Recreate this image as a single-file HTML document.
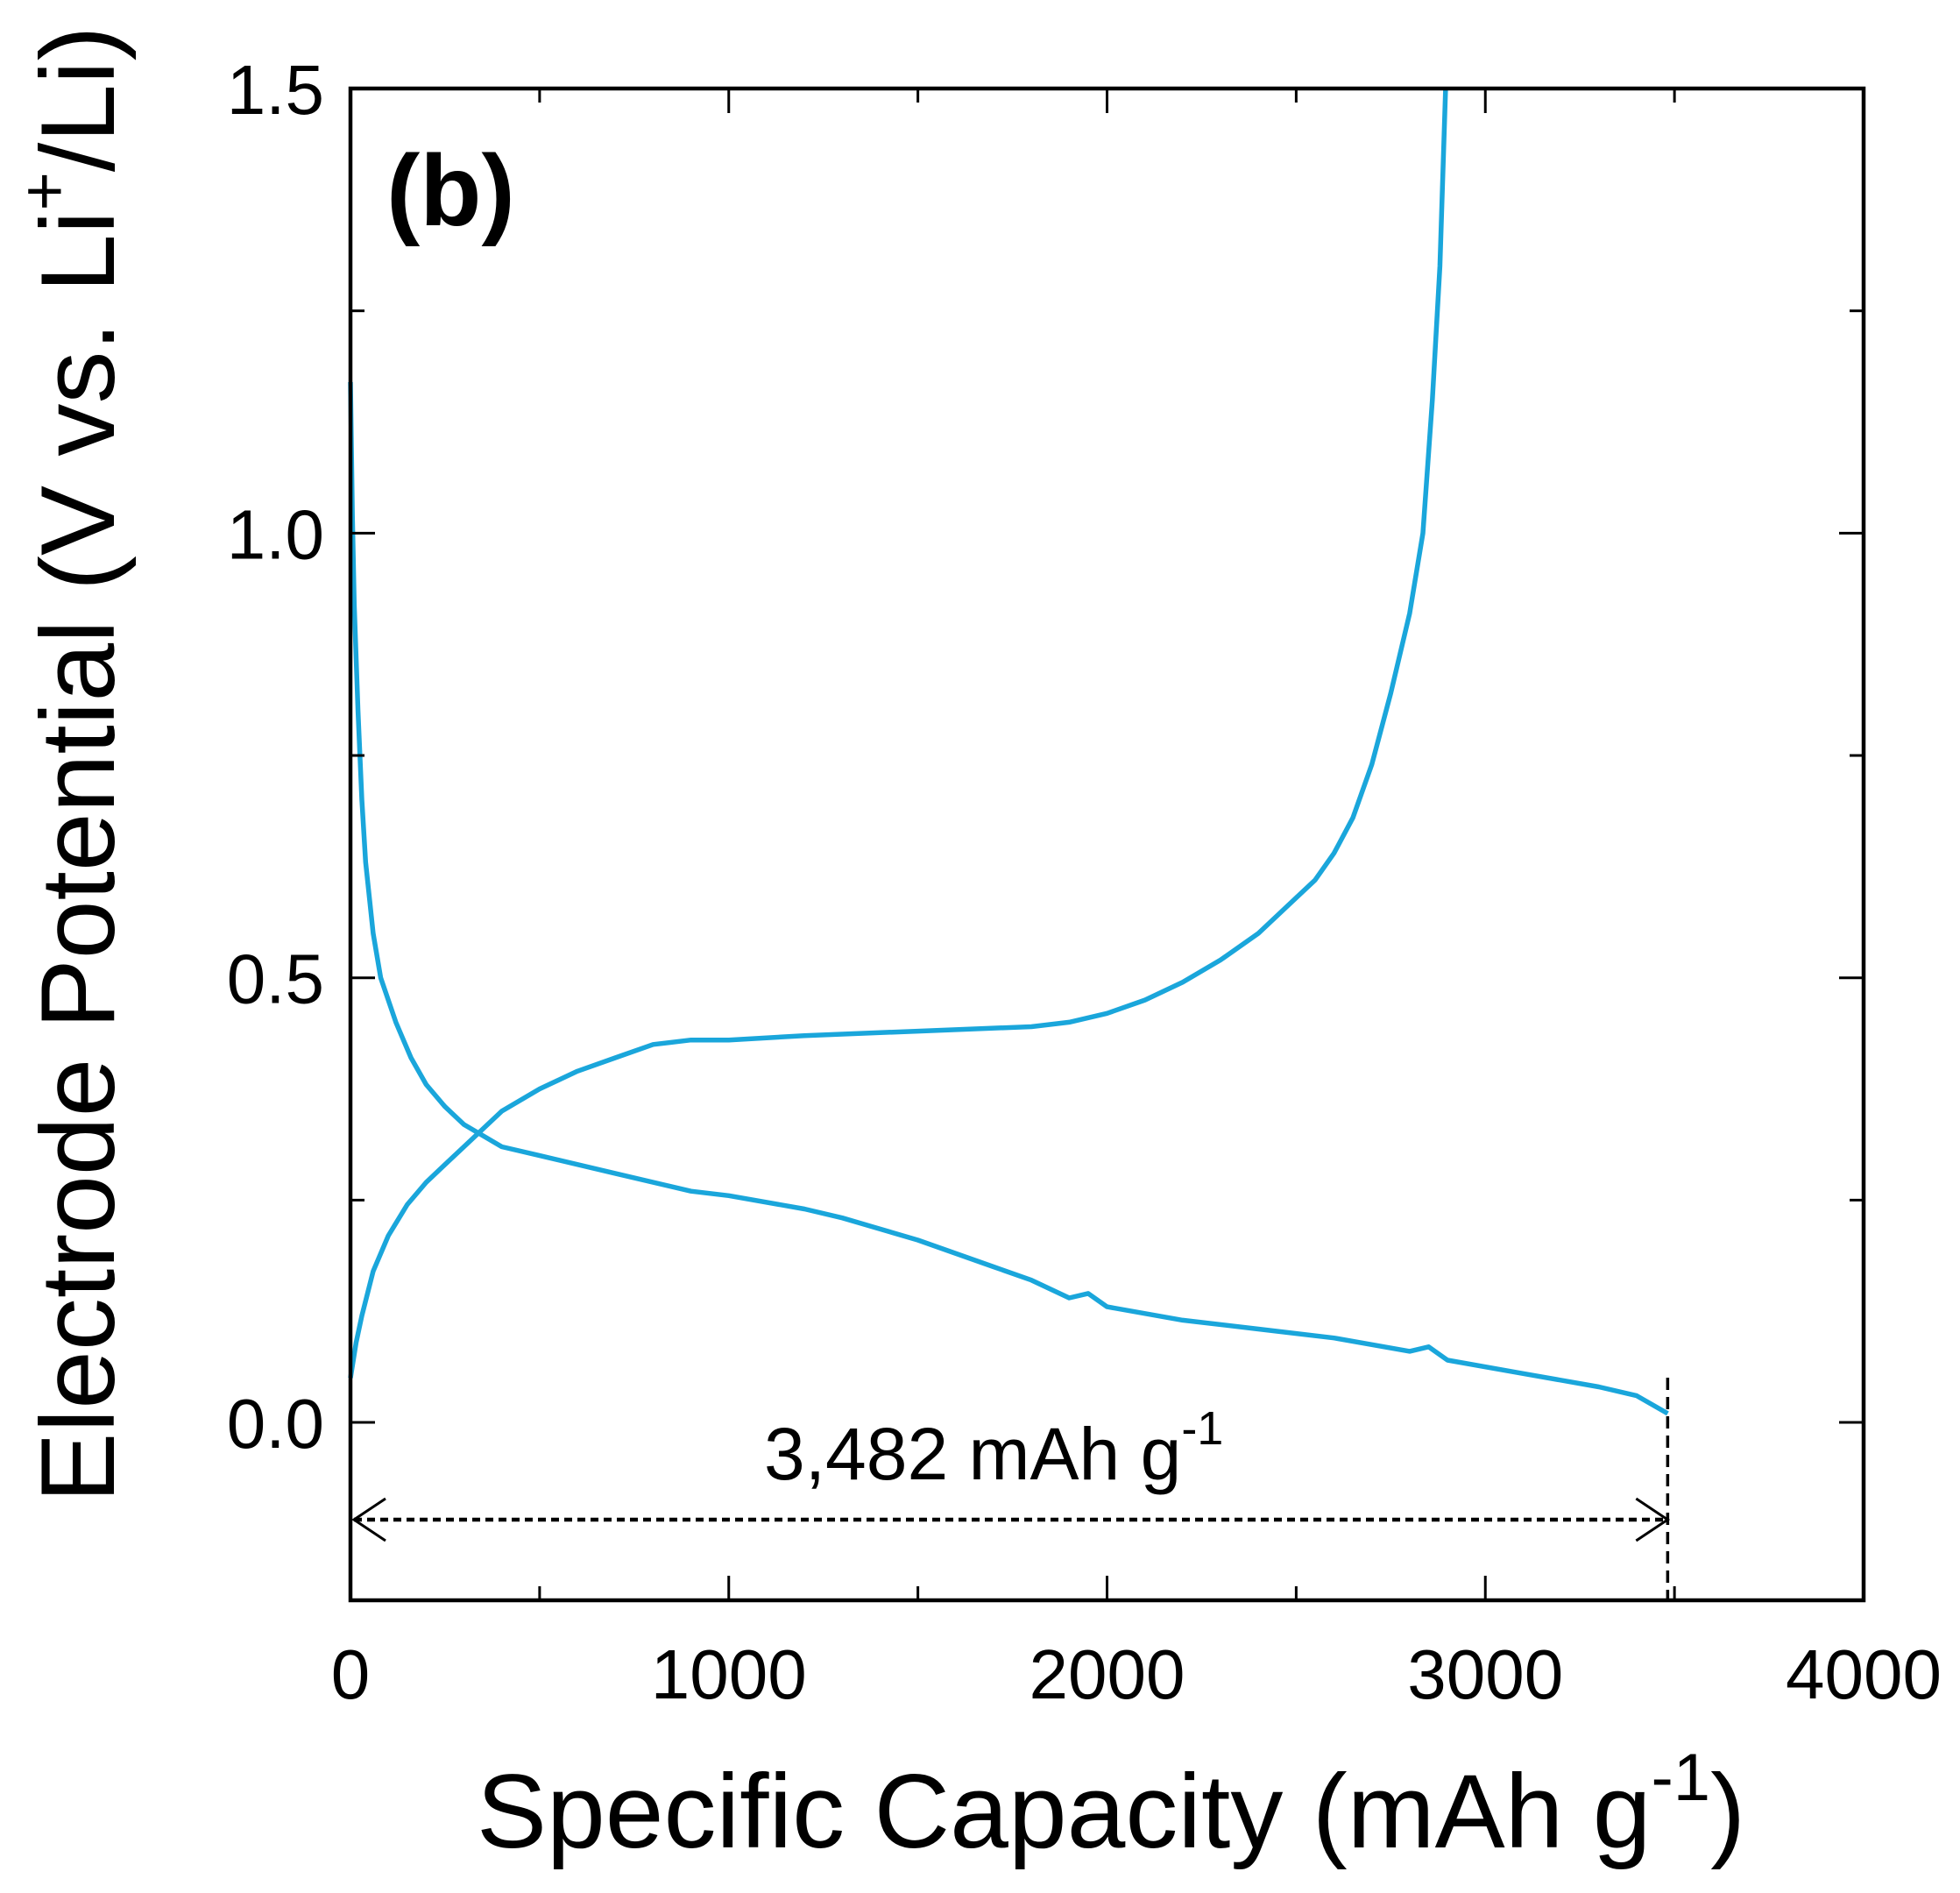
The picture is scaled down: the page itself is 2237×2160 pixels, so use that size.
<!DOCTYPE html>
<html><head><meta charset="utf-8"><style>
html,body{margin:0;padding:0;background:#fff;}
svg{display:block;font-family:"Liberation Sans",Arial,sans-serif;}
</style></head><body>
<svg id="chart" width="2237" height="2160" viewBox="0 0 2237 2160" xmlns="http://www.w3.org/2000/svg">
<g id="marks"></g>
<g id="axes"></g>
<text x="441" y="257" font-size="115" font-weight="bold">(b)</text>
<text x="872" y="1688" font-size="84">3,482 mAh g<tspan font-size="54" dy="-40">-1</tspan></text>
<text x="1268" y="2108" font-size="120" text-anchor="middle">Specific Capacity (mAh g<tspan font-size="76" dy="-54">-1</tspan><tspan dy="54">)</tspan></text>
<text transform="translate(130,872) rotate(-90)" font-size="120" text-anchor="middle">Electrode Potential (V vs. Li<tspan font-size="76" dy="-54">+</tspan><tspan dy="54">/Li)</tspan></text>
</svg>
<script>
const xTicks=[0,1000,2000,3000,4000];
const xTickLabels=["0","1000","2000","3000","4000"];
const yTicks=[0,0.5,1.0,1.5];
const yTickLabels=["0.0","0.5","1.0","1.5"];
const dischargeCap=[0,5,10,20,30,40,60,80,120,160,200,250,300,400,500,700,900,1000,1200,1300,1500,1700,1800,1900,1950,2000,2200,2400,2600,2800,2850,2900,3100,3300,3400,3482];
const dischargeV=[1.17,1.02,0.92,0.8,0.7,0.63,0.55,0.5,0.45,0.41,0.38,0.355,0.335,0.31,0.30,0.28,0.26,0.255,0.24,0.23,0.205,0.175,0.16,0.14,0.145,0.13,0.115,0.105,0.095,0.08,0.085,0.07,0.055,0.04,0.03,0.01];
const chargeCap=[0,15,30,60,100,150,200,250,300,400,500,600,700,800,900,1000,1200,1500,1800,1900,2000,2100,2200,2300,2400,2500,2550,2600,2650,2700,2750,2800,2835,2860,2880,2895];
const chargeV=[0.05,0.09,0.12,0.17,0.21,0.245,0.27,0.29,0.31,0.35,0.375,0.395,0.41,0.425,0.43,0.43,0.435,0.44,0.445,0.45,0.46,0.475,0.495,0.52,0.55,0.59,0.61,0.64,0.68,0.74,0.82,0.91,1.0,1.15,1.3,1.5];
const totalCapacity=[3482];
const L=400,R=2127,T=101,B=1826;
const xMin=0,xMax=4000,yMin=-0.2,yMax=1.5;
const sx=v=>L+(v-xMin)/(xMax-xMin)*(R-L);
const sy=v=>B-(v-yMin)/(yMax-yMin)*(B-T);
const NS="http://www.w3.org/2000/svg";
const marks=document.getElementById('marks'),axes=document.getElementById('axes');
function mk(tag,attrs,parent){const e=document.createElementNS(NS,tag);for(const k in attrs)e.setAttribute(k,attrs[k]);parent.appendChild(e);return e;}
function line(cap,v,name){
  const d=cap.map((c,i)=>(i?'L':'M')+sx(c).toFixed(1)+','+sy(v[i]).toFixed(1)).join('');
  const p=mk('path',{d:d,fill:'none',stroke:'#1aa6db','stroke-width':5.5,'stroke-linejoin':'round'},marks);
  
  
}
line(dischargeCap,dischargeV,'discharge-curve');
line(chargeCap,chargeV,'charge-curve');
const cx=sx(totalCapacity[0]);
const vl=mk('line',{x1:cx,y1:1572,x2:cx,y2:B,stroke:'#000','stroke-width':3.5,'stroke-dasharray':'14,8'},marks);


const ay=1734;
const hl=mk('line',{x1:L+4,y1:ay,x2:cx-4,y2:ay,stroke:'#000','stroke-width':4.5,'stroke-dasharray':'9,6'},marks);


const ah1=mk('path',{d:`M${L+40},${ay-24} L${L+4},${ay} L${L+40},${ay+24}`,fill:'none',stroke:'#000','stroke-width':3},marks);


const ah2=mk('path',{d:`M${cx-36},${ay-24} L${cx},${ay} L${cx-36},${ay+24}`,fill:'none',stroke:'#000','stroke-width':3},marks);


const fr=mk('rect',{x:L,y:T,width:R-L,height:B-T,fill:'none',stroke:'#000','stroke-width':4.5},axes);


for(let v=0;v<=4000;v+=500){
  const major=v%1000===0,len=major?28:16,x=sx(v);
  const t1=mk('line',{x1:x,y1:B,x2:x,y2:B-len,stroke:'#000','stroke-width':3},axes);
  
  
  const t2=mk('line',{x1:x,y1:T,x2:x,y2:T+len,stroke:'#000','stroke-width':3},axes);
  
  
}
xTicks.forEach((v,i)=>{
  const t=mk('text',{x:sx(v),y:1938,'font-size':80,'text-anchor':'middle'},axes);
  t.textContent=xTickLabels[i];
  
  
});
for(let k=0;k<=6;k++){
  const v=k*0.25,major=k%2===0,len=major?28:16,y=sy(v);
  const t1=mk('line',{x1:L,y1:y,x2:L+len,y2:y,stroke:'#000','stroke-width':3},axes);
  
  
  const t2=mk('line',{x1:R,y1:y,x2:R-len,y2:y,stroke:'#000','stroke-width':3},axes);
  
  
}
yTicks.forEach((v,i)=>{
  const t=mk('text',{x:370,y:sy(v)+29,'font-size':80,'text-anchor':'end'},axes);
  t.textContent=yTickLabels[i];
  
  
});
</script>
</body></html>
